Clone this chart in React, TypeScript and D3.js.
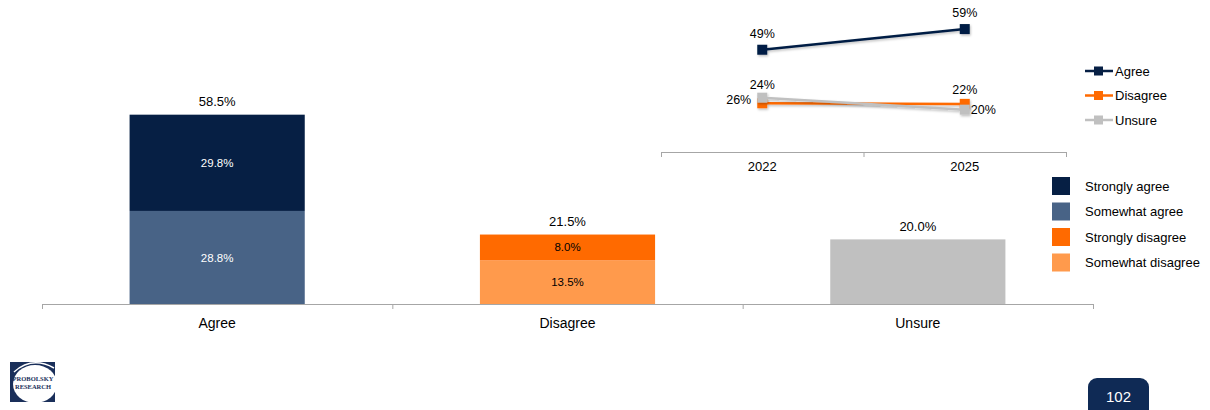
import React from "react";
import * as d3 from "d3";

const categories = ["Agree", "Disagree", "Unsure"];
const lowerSeries = [28.8, 13.5, 20.0]; // Somewhat agree / Somewhat disagree / Unsure
const upperSeries = [29.8, 8.0, 0];     // Strongly agree / Strongly disagree
const totals = ["58.5%", "21.5%", "20.0%"];
const lowerLabels = ["28.8%", "13.5%", ""];
const upperLabels = ["29.8%", "8.0%", ""];

const years = ["2022", "2025"];
const trendAgree = [49, 59];
const trendDisagree = [23.1, 22.8];
const trendUnsure = [25.8, 20.0];
const trendAgreeLabels = ["49%", "59%"];
const trendDisagreeLabels = ["26%", "22%"];
const trendUnsureLabels = ["24%", "20%"];

const lineLegend = ["Agree", "Disagree", "Unsure"];
const boxLegend = ["Strongly agree", "Somewhat agree", "Strongly disagree", "Somewhat disagree"];

const C = {
  navy: "#061f44",
  steel: "#486386",
  orange: "#ff6a00",
  lightOrange: "#ff9a4c",
  gray: "#c0c0c0",
  axis: "#a6a6a6",
};

const FONT = "'Liberation Sans', Arial, sans-serif";

export default function App() {
  const W = 1210, H = 410;
  const x = d3.scaleBand<string>().domain(categories).range([42, 1093]).paddingInner(0).paddingOuter(0);
  const y = d3.scaleLinear().domain([0, 58.5]).range([304, 115]);
  const barW = x.bandwidth() * 0.5;
  const lowerColors = [C.steel, C.lightOrange, C.gray];
  const upperColors = [C.navy, C.orange, C.gray];
  const upperTextColors = ["#ffffff", "#000000", "#000"];
  const lowerTextColors = ["#ffffff", "#000000", "#000"];

  const lx = d3.scalePoint<string>().domain(years).range([661, 1066]).padding(0.5);
  const ly = d3.scaleLinear().domain([0, 60]).range([151, 27]);
  const line = d3.line<number>().x((_, i) => lx(years[i])!).y((v) => ly(v));
  const series = [
    { vals: trendDisagree, color: C.orange },
    { vals: trendUnsure, color: C.gray },
    { vals: trendAgree, color: C.navy },
  ];
  const lineColors = [C.navy, C.orange, C.gray];
  const boxColors = [C.navy, C.steel, C.orange, C.lightOrange];
  const ticks = [0, 1, 2, 3].map((i) => 42 + i * x.bandwidth());
  const lticks = [661, (661 + 1066) / 2, 1066];

  return (
    <svg width={W} height={H} style={{ position: "absolute", left: 0, top: 0, background: "#fff" }} fontFamily={FONT}>
      <defs>
        <filter id="sh" x="-20%" y="-50%" width="140%" height="200%">
          <feDropShadow dx="1" dy="1.5" stdDeviation="1" floodColor="#000" floodOpacity="0.25" />
        </filter>
      </defs>

      {/* bars */}
      {categories.map((c, i) => {
        const x0 = x(c)! + (x.bandwidth() - barW) / 2;
        const cx = x0 + barW / 2;
        const yl = y(lowerSeries[i]);
        const yu = y(lowerSeries[i] + upperSeries[i]);
        return (
          <g key={c}>
            <rect x={x0} y={yl} width={barW} height={y(0) - yl} fill={lowerColors[i]} />
            {upperSeries[i] > 0 && (
              <rect x={x0} y={yu} width={barW} height={yl - yu} fill={upperColors[i]} />
            )}
            {lowerLabels[i] && (
              <text x={cx} y={(yl + y(0)) / 2} dy="0.35em" textAnchor="middle" fontSize={11.5} fill={lowerTextColors[i]}>{lowerLabels[i]}</text>
            )}
            {upperLabels[i] && (
              <text x={cx} y={(yu + yl) / 2} dy="0.35em" textAnchor="middle" fontSize={11.5} fill={upperTextColors[i]}>{upperLabels[i]}</text>
            )}
            <text x={cx} y={yu - 13} dy="0.35em" textAnchor="middle" fontSize={13} fill="#000">{totals[i]}</text>
            <text x={cx} y={323} dy="0.35em" textAnchor="middle" fontSize={14} fill="#000">{c}</text>
          </g>
        );
      })}
      <line x1={42} x2={1093} y1={304.5} y2={304.5} stroke={C.axis} strokeWidth={1} />
      {ticks.map((t, i) => (
        <line key={i} x1={t + 0.5} x2={t + 0.5} y1={304} y2={309} stroke={C.axis} />
      ))}

      {/* trend chart */}
      <line x1={661} x2={1066} y1={152.5} y2={152.5} stroke={C.axis} />
      {lticks.map((t, i) => (
        <line key={i} x1={t + 0.5} x2={t + 0.5} y1={152} y2={157} stroke={C.axis} />
      ))}
      {years.map((yr) => (
        <text key={yr} x={lx(yr)} y={166} dy="0.35em" textAnchor="middle" fontSize={13} fill="#000">{yr}</text>
      ))}
      {series.map((s, k) => (
        <g key={k} filter="url(#sh)">
          <path d={line(s.vals)!} fill="none" stroke={s.color} strokeWidth={2.5} />
          {s.vals.map((v, i) => (
            <rect key={i} x={lx(years[i])! - 5} y={ly(v) - 5} width={10} height={10} fill={s.color} />
          ))}
        </g>
      ))}
      <g fontSize={12.5} fill="#000">
        <text x={lx(years[0])} y={ly(trendAgree[0]) - 16} dy="0.35em" textAnchor="middle">{trendAgreeLabels[0]}</text>
        <text x={lx(years[1])} y={ly(trendAgree[1]) - 16} dy="0.35em" textAnchor="middle">{trendAgreeLabels[1]}</text>
        <text x={lx(years[0])} y={ly(trendUnsure[0]) - 13} dy="0.35em" textAnchor="middle">{trendUnsureLabels[0]}</text>
        <text x={lx(years[1]) + 6} y={ly(trendUnsure[1])} dy="0.35em" textAnchor="start">{trendUnsureLabels[1]}</text>
        <text x={lx(years[0]) - 11} y={ly(trendDisagree[0]) - 4} dy="0.35em" textAnchor="end">{trendDisagreeLabels[0]}</text>
        <text x={lx(years[1])} y={ly(trendDisagree[1]) - 14} dy="0.35em" textAnchor="middle">{trendDisagreeLabels[1]}</text>
      </g>

      {/* line legend */}
      {lineLegend.map((l, i) => {
        const yy = 71 + i * 24.5;
        return (
          <g key={l}>
            <line x1={1085} x2={1113} y1={yy} y2={yy} stroke={lineColors[i]} strokeWidth={2.5} />
            <rect x={1094} y={yy - 4.5} width={9} height={9} fill={lineColors[i]} />
            <text x={1115} y={yy} dy="0.35em" fontSize={13} fill="#000">{l}</text>
          </g>
        );
      })}

      {/* box legend */}
      {boxLegend.map((l, i) => {
        const yy = 186 + i * 25.5;
        return (
          <g key={l}>
            <rect x={1052} y={yy - 9} width={18} height={18} fill={boxColors[i]} />
            <text x={1085} y={yy} dy="0.35em" fontSize={13} fill="#000">{l}</text>
          </g>
        );
      })}

      {/* logo */}
      <g>
        <rect x={10} y={362} width={45} height={40} fill="#1a2f5a" />
        <ellipse cx={35} cy={384} rx={22} ry={19} fill="#fff" />
        <path d="M14,372 Q32,356 54,368" fill="none" stroke="#fff" strokeWidth={1.5} />
        <text x={33} y={381} textAnchor="middle" fontSize={6.5} fontWeight="bold" fill="#1a2f5a" fontFamily="'Liberation Serif', serif">PROBOLSKY</text>
        <text x={33} y={389} textAnchor="middle" fontSize={6.5} fontWeight="bold" fill="#1a2f5a" fontFamily="'Liberation Serif', serif">RESEARCH</text>
      </g>

      {/* page number */}
      <rect x={1088} y={378} width={61} height={40} rx={9} fill="#0f2a55" />
      <text x={1118.5} y={397} dy="0.35em" textAnchor="middle" fontSize={15} fill="#fff">102</text>
    </svg>
  );
}
